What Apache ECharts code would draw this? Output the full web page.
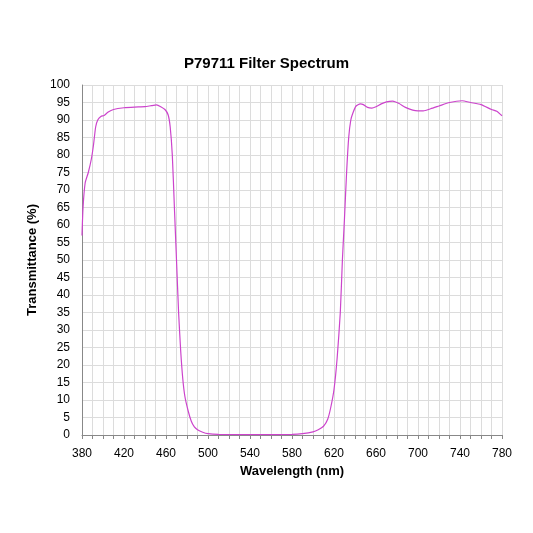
<!DOCTYPE html>
<html>
<head>
<meta charset="utf-8">
<script src="https://cdn.jsdelivr.net/npm/echarts@6/dist/echarts.min.js"></script>
<style>html,body{margin:0;padding:0;background:#fff}#chart{width:533px;height:533px}</style>
</head>
<body>
<div id="chart"></div>
<script>
// 波长 (nm) 与透过率 (%)
const wavelengths = [380,381,383,386,389,391,393,395,398,401,405,410,420,430,440,446,451,455,459,462,464,466,468,470,472,474,476,478,481,484,487,490,495,500,510,550,580,590,600,605,610,614,617,620,623,626,628,630,632,634,636,638,641,645,648,652,656,660,665,670,676,682,688,695,700,705,712,720,730,742,750,760,770,775,780];
const transmittance = [57,65,72,75,79,83,88,90,91,91.3,92.3,93,93.5,93.7,93.8,94.1,94.3,93.8,93,91.5,88,80,65,50,35,24,16,11,7,4,2.3,1.5,0.8,0.4,0.2,0.1,0.2,0.4,0.9,1.5,2.5,4.5,8,13,22,35,50,62,75,85,90,92,94,94.6,94.4,93.6,93.4,93.8,94.6,95.2,95.4,94.7,93.6,92.8,92.6,92.6,93.2,94,95,95.5,95,94.4,93,92.5,91.2];

const chart = echarts.init(document.getElementById('chart'));
const font = 'Liberation Sans, Arial, sans-serif';
const gridLine = { show: true, lineStyle: { color: '#dcdcdc', width: 1 } };

chart.setOption({
    animation: false,
    title: {
        text: 'P79711 Filter Spectrum', left: 'center', top: 51,
        textStyle: { fontFamily: font, fontSize: 15, fontWeight: 'bold', color: '#000' }
    },
    grid: { left: 82, right: 31, top: 85, bottom: 98 },
    xAxis: {
        type: 'value', min: 380, max: 780, interval: 40,
        minorTick: { show: true, splitNumber: 4, length: 4, lineStyle: { color: '#888' } },
        minorSplitLine: gridLine,
        splitLine: gridLine,
        axisLine: { lineStyle: { color: '#888' } },
        axisTick: { show: true, length: 4, lineStyle: { color: '#888' } },
        axisLabel: { fontFamily: font, fontSize: 12, color: '#000', margin: 13 },
        name: 'Wavelength (nm)', nameLocation: 'middle', nameGap: 27,
        nameTextStyle: { fontFamily: font, fontSize: 13, fontWeight: 'bold', color: '#000' }
    },
    yAxis: {
        type: 'value', min: 0, max: 100, interval: 5,
        splitLine: gridLine,
        axisLine: { show: true, lineStyle: { color: '#888' } },
        axisTick: { show: false },
        axisLabel: { fontFamily: font, fontSize: 12, color: '#000', margin: 12 },
        name: 'Transmittance (%)', nameLocation: 'middle', nameGap: 36,
        nameTextStyle: { fontFamily: font, fontSize: 13, fontWeight: 'bold', color: '#000' }
    },
    series: [{
        type: 'line', smooth: 0.2, symbol: 'none',
        lineStyle: { color: '#cc44cc', width: 1.2 },
        data: wavelengths.map(function(w, i) { return [w, transmittance[i]]; })
    }]
});
</script>
</body>
</html>
